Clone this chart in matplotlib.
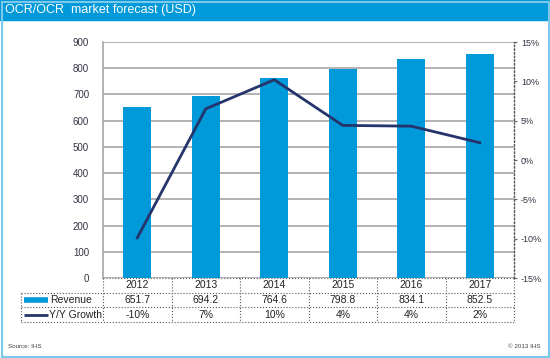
import matplotlib.pyplot as plt
from matplotlib.patches import Rectangle
from matplotlib.ticker import FuncFormatter

plt.rcParams["font.family"] = ["Liberation Sans", "DejaVu Sans"]

W, H = 550, 358
BLUE = "#0099d9"
NAVY = "#25346a"
GRID = "#a6a6a6"
TEXT = "#333344"

years = ["2012", "2013", "2014", "2015", "2016", "2017"]
revenue = [651.7, 694.2, 764.6, 798.8, 834.1, 852.5]
growth = [-9.9, 6.5, 10.2, 4.4, 4.3, 2.2]
revenue_labels = ["651.7", "694.2", "764.6", "798.8", "834.1", "852.5"]
growth_labels = ["-10%", "7%", "10%", "4%", "4%", "2%"]

PLOT_L, PLOT_T, PLOT_R, PLOT_B = 103, 42, 514, 278
TABLE_L, TABLE_B = 21, 322


def px_axes(fig, left, top, right, bottom):
    return fig.add_axes([left / W, 1 - bottom / H, (right - left) / W, (bottom - top) / H])


fig = plt.figure(figsize=(W / 100, H / 100), dpi=100)

# frame and title bar
fig.patches.append(Rectangle((0, 1 - 20 / H), 1, 20 / H, transform=fig.transFigure,
                             color=BLUE, zorder=0))
fig.patches.append(Rectangle((1.5 / W, 1.5 / H), 1 - 3 / W, 1 - 3 / H, transform=fig.transFigure,
                             fill=False, ec="#7cc8ec", lw=1.5, zorder=0))
fig.text(5 / W, 1 - 10.5 / H, "OCR/OCR  market forecast (USD)", color="white",
         fontsize=9, va="center", ha="left")

ax = px_axes(fig, PLOT_L, PLOT_T, PLOT_R, PLOT_B)
x = list(range(len(years)))
ax.bar(x, revenue, width=0.41, color=BLUE, zorder=2)
ax.set_xlim(-0.5, 5.5)
ax.set_ylim(0, 900)
ax.set_yticks(range(0, 901, 100))
ax.set_xticks([])
ax.grid(axis="y", color=GRID, lw=1.2, zorder=0)
ax.tick_params(axis="y", length=0, labelsize=7, labelcolor=TEXT, pad=10)
for side in ["top", "bottom"]:
    ax.spines[side].set_visible(False)
ax.spines["left"].set_color(GRID)
ax.spines["left"].set_linewidth(1.2)
ax.spines["right"].set_visible(False)

ax2 = ax.twinx()
ax2.plot(x, growth, color=NAVY, lw=2, zorder=3)
ax2.set_ylim(-15, 15)
ax2.set_yticks(range(-15, 16, 5))
ax2.yaxis.set_major_formatter(FuncFormatter(lambda v, _: f"{v:.0f}%"))
ax2.tick_params(axis="y", length=2, color="#666666", labelsize=6.5, labelcolor=TEXT, pad=3)
for side in ["top", "bottom", "left"]:
    ax2.spines[side].set_visible(False)
ax2.spines["right"].set_linestyle(":")
ax2.spines["right"].set_color("#555555")
ax2.spines["right"].set_linewidth(1)

# data table below the chart
col_w = (PLOT_R - PLOT_L) / len(years)
x0 = -0.5 - (PLOT_L - TABLE_L) / col_w
tax = px_axes(fig, TABLE_L, PLOT_B, PLOT_R, TABLE_B)
tax.set_xlim(x0, 5.5)
tax.set_ylim(3, 0)
tax.axis("off")

line_kw = dict(color="#555555", lw=0.8, ls=":", clip_on=False)
tax.plot([-0.5, 5.5], [0, 0], **line_kw)
for yy in [1, 2, 3]:
    tax.plot([x0, 5.5], [yy, yy], **line_kw)
tax.plot([x0, x0], [1, 3], **line_kw)
for i in range(len(years) + 1):
    tax.plot([i - 0.5, i - 0.5], [0, 3], **line_kw)

cell_kw = dict(ha="center", va="center", fontsize=7.5, color="#222222")
for i, yr in enumerate(years):
    tax.text(i, 0.5, yr, **cell_kw)
    tax.text(i, 1.5, revenue_labels[i], **cell_kw)
    tax.text(i, 2.5, growth_labels[i], **cell_kw)

sw0 = x0 + 3 / col_w
sw1 = x0 + 27 / col_w
tax.plot([sw0, sw1], [1.5, 1.5], color=BLUE, lw=4, solid_capstyle="butt")
tax.plot([sw0, sw1], [2.5, 2.5], color=NAVY, lw=2, solid_capstyle="butt")
tax.text(sw1 + 2 / col_w, 1.5, "Revenue", ha="left", va="center", fontsize=7.5, color="#222222")
tax.text(sw1 + 1 / col_w, 2.5, "Y/Y Growth", ha="left", va="center", fontsize=7.5, color="#222222")

fig.text(8 / W, 1 - 346 / H, "Source: IHS", fontsize=4.5, color="#444444", va="center")
fig.text(540 / W, 1 - 346 / H, "\u00a9 2013 IHS", fontsize=4.5, color="#444444",
         va="center", ha="right")

fig.savefig("out.png", dpi=100)
